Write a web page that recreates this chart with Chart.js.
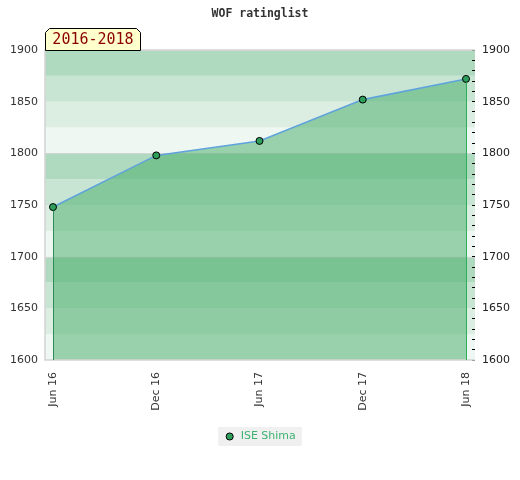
<!DOCTYPE html>
<html><head><meta charset="utf-8">
<script src="https://cdn.jsdelivr.net/npm/chart.js@4"></script>
<style>html,body{margin:0;padding:0;background:#fff}</style>
</head><body>
<canvas id="c" width="520" height="480"></canvas>
<script>
const labels = ['Jun 16', 'Dec 16', 'Jun 17', 'Dec 17', 'Jun 18'];
const ratings = [1748, 1798, 1812, 1852, 1872];
const seriesName = 'ISE Shima';
const yTicks = [1600, 1650, 1700, 1750, 1800, 1850, 1900];
const periodLabel = '2016-2018';
const chartTitle = 'WOF ratinglist';

const bandColors = ['#eef7f1', '#dcede2', '#c8e5d3', '#b0dabf'];

const bgPlugin = {
  id: 'bgPlugin',
  beforeDraw(chart) {
    const ctx = chart.ctx;
    const lg = chart.legend;
    if (lg && lg.legendHitBoxes && lg.legendHitBoxes.length) {
      const hb = lg.legendHitBoxes[0];
      const cy = hb.top + hb.height / 2;
      ctx.save();
      ctx.fillStyle = '#f0f0f0';
      ctx.fillRect(hb.left - 6, cy - 9.5, hb.width + 12, 19);
      ctx.restore();
    }
    const a = chart.chartArea, y = chart.scales.y;
    const right = a.right + 3;
    ctx.save();
    for (let v = yTicks[0]; v < yTicks[yTicks.length - 1]; v += 25) {
      const idx = Math.round((v - yTicks[0]) / 25) % 4;
      ctx.fillStyle = bandColors[idx];
      const t = y.getPixelForValue(v + 25), b = y.getPixelForValue(v);
      ctx.fillRect(a.left, t, right - a.left, b - t);
    }
    ctx.strokeStyle = '#d4d4d4';
    ctx.lineWidth = 1;
    yTicks.forEach(v => {
      if (v % 100 === 0 && v !== yTicks[0]) {
        const py = Math.round(y.getPixelForValue(v)) + 0.5;
        ctx.beginPath(); ctx.moveTo(a.left, py); ctx.lineTo(right, py); ctx.stroke();
      }
    });
    ctx.restore();
  },
  afterDatasetsDraw(chart) {
    const ctx = chart.ctx, a = chart.chartArea;
    const meta = chart.getDatasetMeta(0);
    const pts = meta.data;
    ctx.save();
    ctx.strokeStyle = '#d4d4d4';
    ctx.lineWidth = 1.5;
    ctx.beginPath();
    ctx.moveTo(a.right + 3, a.top);
    ctx.lineTo(a.left, a.top);
    ctx.lineTo(a.left, a.bottom);
    ctx.lineTo(a.right + 3, a.bottom);
    ctx.stroke();
    const p0 = pts[0], p1 = pts[pts.length - 1];
    ctx.lineWidth = 1;
    ctx.strokeStyle = '#2e8b57';
    ctx.beginPath(); ctx.moveTo(Math.round(p0.x) + 0.5, p0.y + 3.5); ctx.lineTo(Math.round(p0.x) + 0.5, a.bottom); ctx.stroke();
    ctx.strokeStyle = '#2bb05a';
    ctx.beginPath(); ctx.moveTo(Math.round(p1.x) + 0.5, p1.y + 3.5); ctx.lineTo(Math.round(p1.x) + 0.5, a.bottom); ctx.stroke();
    ctx.restore();
  },
  afterDraw(chart) {
    const ctx = chart.ctx, a = chart.chartArea;
    const x0 = a.left + 0.5, x1 = a.left + 95.5, y0 = a.top - 21.5, y1 = a.top + 0.5, c = 4;
    ctx.save();
    ctx.beginPath();
    ctx.moveTo(x0, y1);
    ctx.lineTo(x0, y0 + c);
    ctx.lineTo(x0 + c, y0);
    ctx.lineTo(x1 - c, y0);
    ctx.lineTo(x1, y0 + c);
    ctx.lineTo(x1, y1);
    ctx.closePath();
    ctx.fillStyle = '#ffffcc';
    ctx.fill();
    ctx.strokeStyle = '#000';
    ctx.lineWidth = 1;
    ctx.stroke();
    ctx.fillStyle = '#8b0000';
    ctx.font = '15px "DejaVu Sans Mono", monospace';
    ctx.textAlign = 'center';
    ctx.textBaseline = 'middle';
    ctx.fillText(periodLabel, (x0 + x1) / 2, (y0 + y1) / 2 + 1);
    ctx.restore();
  }
};

const tickFont = { family: 'DejaVu Sans', size: 11 };

new Chart(document.getElementById('c'), {
  type: 'line',
  data: {
    datasets: [{
      label: seriesName,
      data: ratings.map((v, i) => ({ x: i, y: v })),
      borderColor: '#5fa3dc',
      borderWidth: 1.6,
      pointBackgroundColor: '#2e9e5b',
      pointBorderColor: '#000',
      pointBorderWidth: 1,
      pointRadius: 3.5,
      pointHoverRadius: 3.5,
      fill: 'start',
      backgroundColor: 'rgba(66,171,101,0.5)',
      tension: 0,
      yAxisID: 'y'
    }]
  },
  options: {
    responsive: false,
    animation: false,
    devicePixelRatio: 1,
    layout: { padding: { left: 0, right: 0, top: 0, bottom: 28 } },
    plugins: {
      title: {
        display: true,
        text: chartTitle,
        color: '#333',
        font: { family: 'DejaVu Sans Mono', size: 11.5, weight: 'bold' },
        padding: { top: 7, bottom: 29.2 }
      },
      legend: {
        position: 'bottom',
        labels: {
          usePointStyle: true,
          boxWidth: 11,
          boxHeight: 5,
          color: '#3cb371',
          font: { family: 'DejaVu Sans', size: 11 },
          padding: 10
        }
      },
      tooltip: { enabled: false }
    },
    scales: {
      x: {
        type: 'linear',
        min: -0.0775,
        max: 4.058,
        afterBuildTicks: s => { s.ticks = labels.map((_, i) => ({ value: i })); },
        afterFit: s => { s.height = 61; },
        ticks: {
          callback: v => labels[v],
          maxRotation: 90,
          minRotation: 90,
          font: tickFont,
          color: '#333',
          padding: 12
        },
        grid: { display: false, drawTicks: false },
        border: { display: false }
      },
      y: {
        position: 'left',
        min: yTicks[0],
        max: yTicks[yTicks.length - 1],
        afterBuildTicks: s => { s.ticks = yTicks.map(v => ({ value: v })); },
        afterFit: s => { s.width = 45; },
        ticks: { font: tickFont, color: '#333', padding: 7, callback: v => String(v) },
        grid: { display: false, drawTicks: false },
        border: { display: false }
      },
      y2: {
        position: 'right',
        min: yTicks[0],
        max: yTicks[yTicks.length - 1],
        afterBuildTicks: s => {
          const t = [];
          for (let v = yTicks[0]; v <= yTicks[yTicks.length - 1]; v += 10) t.push({ value: v });
          s.ticks = t;
        },
        afterFit: s => { s.width = 48; },
        ticks: {
          autoSkip: false,
          font: tickFont,
          color: '#222',
          padding: 7,
          callback: v => (yTicks.includes(v) ? String(v) : '')
        },
        grid: { drawOnChartArea: false, drawTicks: true, tickLength: 3, color: '#000', tickColor: '#000' },
        border: { display: false }
      }
    }
  },
  plugins: [bgPlugin]
});
</script>
</body></html>
